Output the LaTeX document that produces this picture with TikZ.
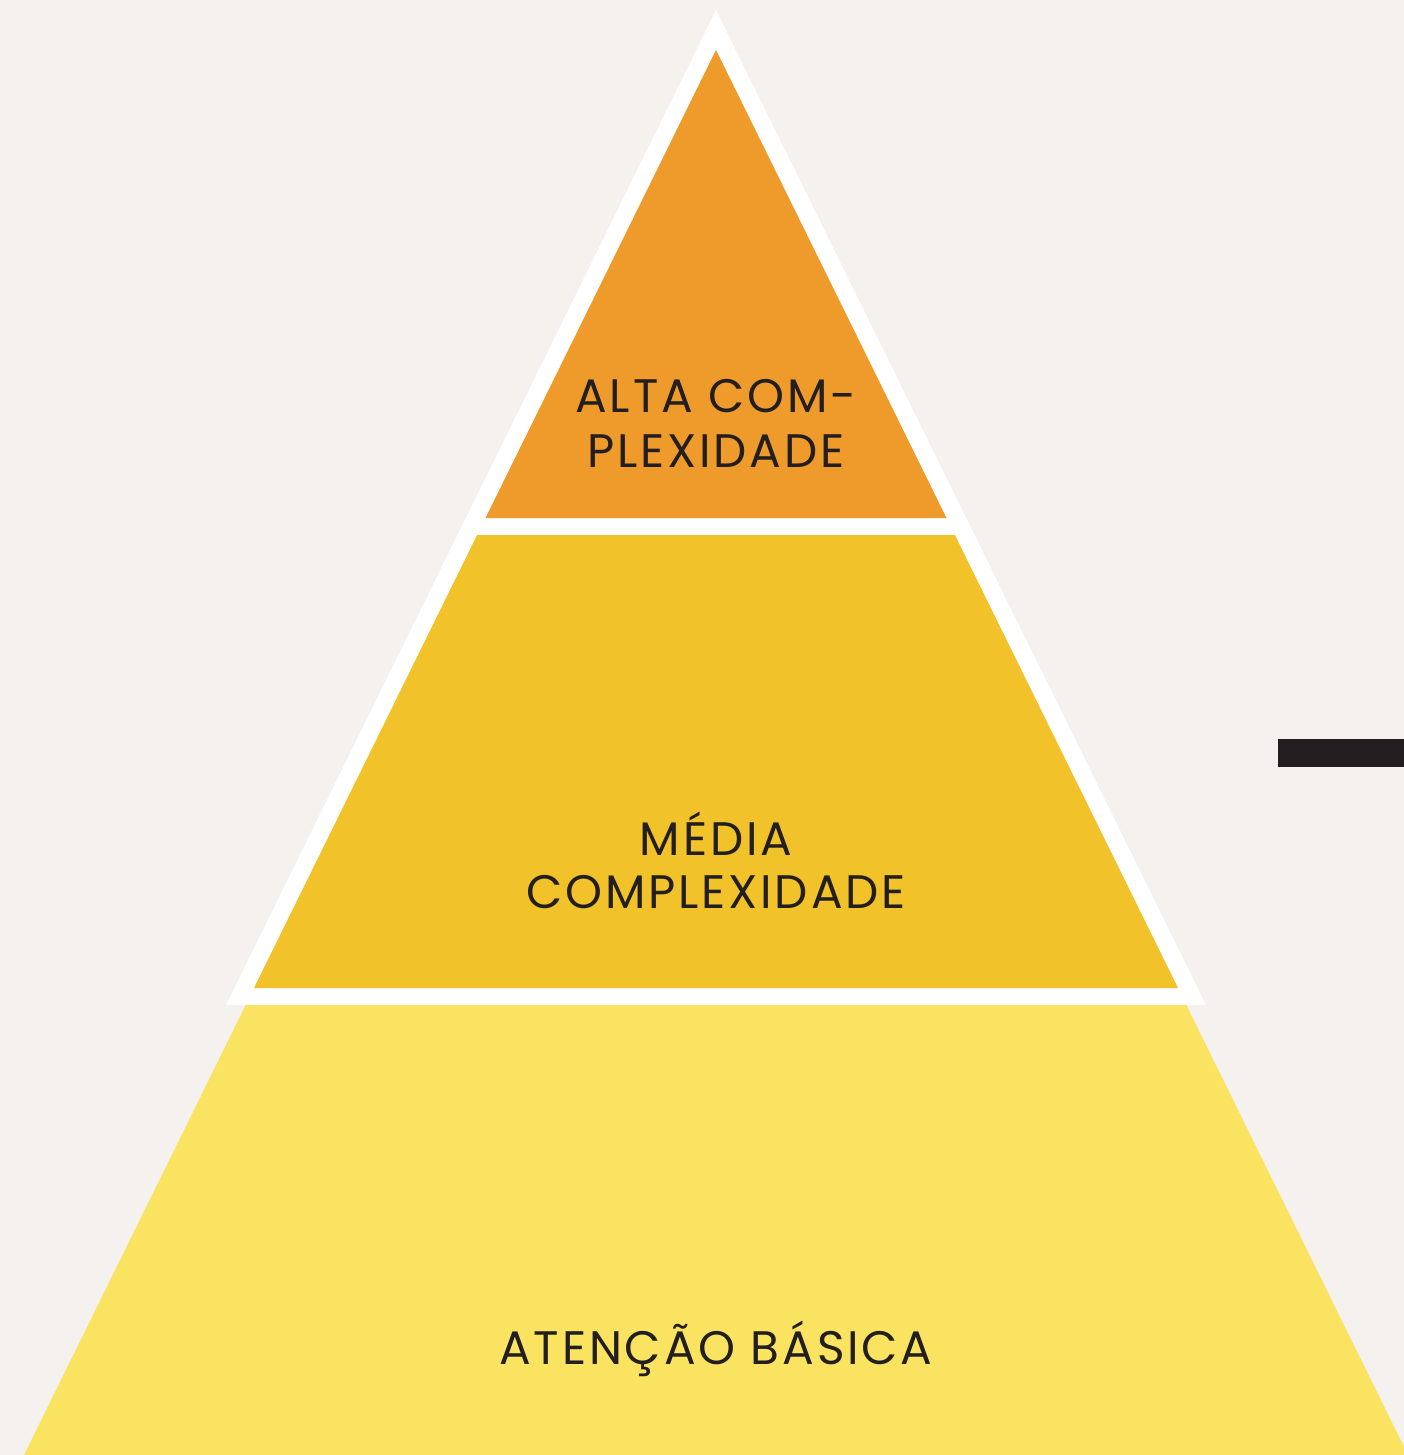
\documentclass[tikz,border=0pt]{standalone}
\usepackage{fontspec}
\setmainfont[LetterSpace=6]{Poppins}
\definecolor{bg}{HTML}{F4F1EE}
\definecolor{toplvl}{HTML}{EF9B2B}
\definecolor{midlvl}{HTML}{F2C22A}
\definecolor{lowlvl}{HTML}{FBE362}
\definecolor{ink}{HTML}{231F20}
\tikzset{
  lbl/.style={anchor=base, text=ink, inner sep=0pt, font=\fontsize{47}{54}\selectfont},
}
\begin{document}
\begin{tikzpicture}[x=1pt,y=-1pt]
\useasboundingbox (0,0) rectangle (1404,1455);
\fill[bg] (0,0) rectangle (1404,1455);
% white outline of the upper two levels
\fill[white] (716,10) -- (1206,1005) -- (226,1005) -- cycle;
% levels
\fill[toplvl] (716,50) -- (946.5,518) -- (485.5,518) -- cycle;
\fill[midlvl] (477.1,535) -- (954.9,535) -- (1178,988) -- (254,988) -- cycle;
\fill[lowlvl] (245.7,1005) -- (1186.3,1005) -- (1408,1455) -- (24,1455) -- cycle;
% black bar
\fill[ink] (1278,739) rectangle (1404,767);
% labels
\node[lbl] (alta1) at (716,412) {ALTA COM-};
\node[lbl] (alta2) at (716,467) {PLEXIDADE};
\node[lbl] (media1) at (716,855) {MÉDIA};
\node[lbl] (media2) at (716,908) {COMPLEXIDADE};
\node[lbl] (basica) at (716,1364) {ATENÇÃO BÁSICA};
\end{tikzpicture}
\end{document}
